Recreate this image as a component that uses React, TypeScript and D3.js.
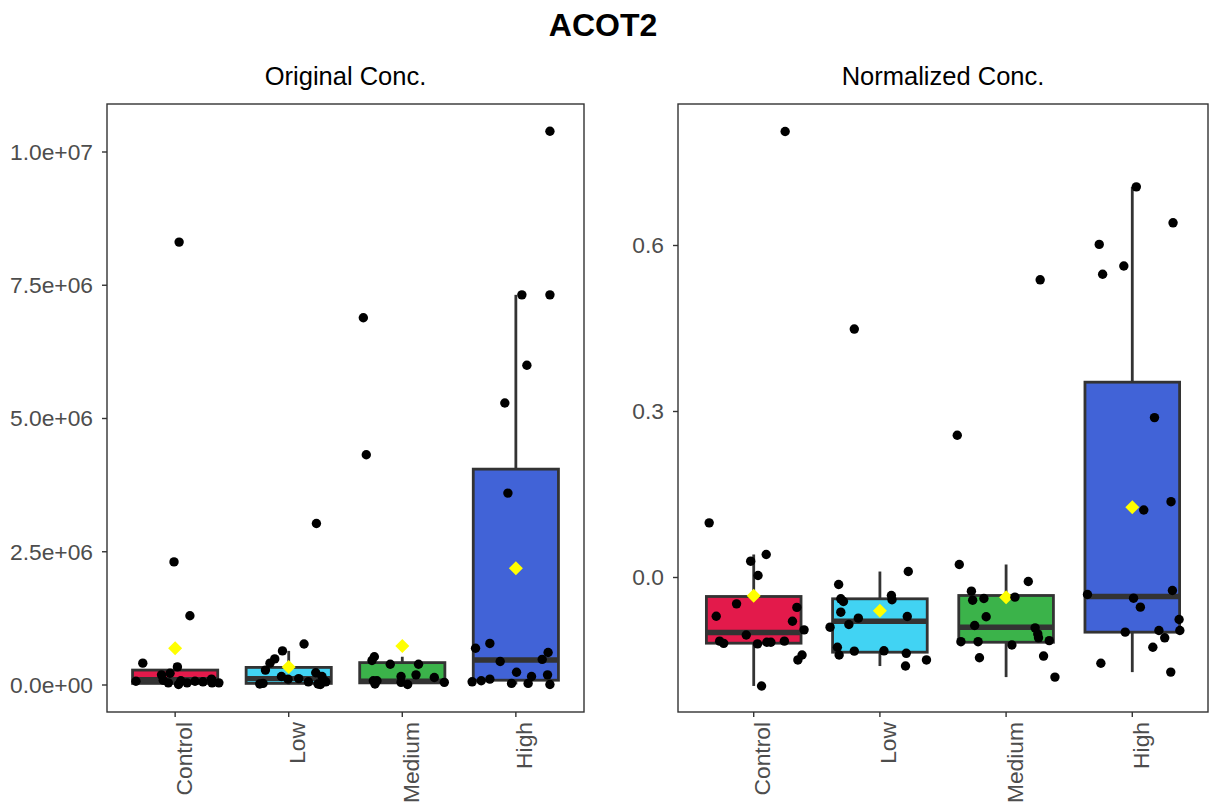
import React from "react";
import * as d3 from "d3";

// Treatment groups and their box fills
const groups = ["Control", "Low", "Medium", "High"];
const fills = ["#E31A4B", "#41D3F3", "#3BB34A", "#4163D7"];

// Axis ticks
const origTicks = [0, 2.5e6, 5e6, 7.5e6, 1e7];
const origTickLabels = ["0.0e+00", "2.5e+06", "5.0e+06", "7.5e+06", "1.0e+07"];
const normTicks = [0, 0.3, 0.6];
const normTickLabels = ["0.0", "0.3", "0.6"];

// Samples per group: [value, horizontal jitter as a fraction of the category step]
const origControl: [number, number][] = [
  [8.31e6, 0.035], [2.31e6, -0.01], [1.3e6, 0.13], [0.41e6, -0.285], [0.34e6, 0.02],
  [0.19e6, -0.12], [0.22e6, -0.045], [0.07e6, -0.345], [0.09e6, -0.105], [0.04e6, -0.06],
  [0.01e6, 0.03], [0.08e6, 0.05], [0.04e6, 0.105], [0.07e6, 0.175], [0.06e6, 0.245],
  [0.11e6, 0.32], [0.04e6, 0.325], [0.04e6, 0.385],
];
const origLow: [number, number][] = [
  [3.03e6, 0.244], [0.77e6, 0.135], [0.64e6, -0.055], [0.49e6, -0.123], [0.41e6, -0.165],
  [0.28e6, -0.205], [0.16e6, -0.064], [0.11e6, -0.006], [0.12e6, 0.088], [0.23e6, 0.238],
  [0.16e6, 0.293], [0.02e6, -0.255], [0.03e6, -0.226], [0.06e6, 0.173], [0.02e6, 0.258],
  [0.01e6, 0.279], [0.06e6, 0.326],
];
const origMedium: [number, number][] = [
  [6.89e6, -0.343], [4.32e6, -0.317], [0.53e6, -0.246], [0.46e6, -0.267], [0.39e6, -0.106],
  [0.39e6, 0.143], [0.19e6, 0.121], [0.16e6, -0.011], [0.14e6, 0.282], [0.08e6, -0.255],
  [0.08e6, -0.223], [0.02e6, -0.24], [0.05e6, -0.011], [0.01e6, 0.047], [0.05e6, 0.37],
];
const origHigh: [number, number][] = [
  [10.39e6, 0.3], [7.32e6, 0.053], [7.32e6, 0.3], [6.0e6, 0.097], [5.29e6, -0.097],
  [3.6e6, -0.07], [0.69e6, -0.355], [0.78e6, -0.229], [0.44e6, -0.138], [0.61e6, 0.284],
  [0.48e6, 0.232], [0.24e6, 0.006], [0.16e6, 0.138], [0.19e6, 0.279], [0.06e6, -0.385],
  [0.08e6, -0.305], [0.11e6, -0.229], [0.03e6, -0.038], [0.03e6, 0.108], [0.01e6, 0.3],
];

const normControl: [number, number][] = [
  [0.806, 0.249], [0.0988, -0.353], [0.0416, 0.099], [0.0295, -0.024], [0.0036, 0.034],
  [-0.0476, -0.136], [-0.07, -0.297], [-0.054, 0.342], [-0.079, 0.307], [-0.0946, 0.399],
  [-0.104, -0.059], [-0.115, -0.27], [-0.119, -0.238], [-0.12, 0.03], [-0.117, 0.104],
  [-0.117, 0.136], [-0.115, 0.243], [-0.14, 0.383], [-0.149, 0.35], [-0.196, 0.062],
];
const normLow: [number, number][] = [
  [0.449, -0.203], [0.0108, 0.225], [-0.0127, -0.327], [-0.0385, -0.31], [-0.0434, -0.289],
  [-0.0325, 0.091], [-0.0403, 0.096], [-0.0627, -0.31], [-0.0735, -0.171], [-0.0849, -0.246],
  [-0.0705, 0.217], [-0.0898, -0.395], [-0.126, -0.337], [-0.14, -0.323], [-0.133, -0.203],
  [-0.1325, 0.032], [-0.137, 0.209], [-0.16, 0.203], [-0.149, 0.369],
];
const normMedium: [number, number][] = [
  [0.538, 0.27], [0.257, -0.387], [0.0235, -0.371], [-0.0072, 0.176], [-0.0247, -0.275],
  [-0.041, -0.265], [-0.038, -0.176], [-0.0355, 0.07], [-0.071, -0.158], [-0.0868, -0.249],
  [-0.091, 0.23], [-0.102, 0.251], [-0.109, 0.257], [-0.116, -0.358], [-0.116, -0.222],
  [-0.114, 0.342], [-0.122, 0.046], [-0.145, -0.211], [-0.142, 0.297], [-0.18, 0.387],
];
const normHigh: [number, number][] = [
  [0.706, 0.032], [0.641, 0.323], [0.602, -0.262], [0.563, -0.067], [0.548, -0.235],
  [0.289, 0.176], [0.137, 0.307], [0.122, 0.091], [-0.0307, -0.355], [-0.0235, 0.318],
  [-0.0374, 0.01], [-0.0536, 0.064], [-0.0759, 0.371], [-0.0958, 0.377], [-0.0988, -0.056],
  [-0.0958, 0.211], [-0.109, 0.257], [-0.126, 0.163], [-0.155, -0.249], [-0.171, 0.305],
];

// Box summaries per group (Control, Low, Medium, High)
const origLower = [0.01e6, 0.01e6, 0.01e6, 0.01e6];
const origQ1 = [0.03e6, 0.03e6, 0.04e6, 0.09e6];
const origMedian = [0.1e6, 0.12e6, 0.07e6, 0.47e6];
const origQ3 = [0.28e6, 0.33e6, 0.42e6, 4.05e6];
const origUpper = [0.41e6, 0.64e6, 0.53e6, 7.32e6];
const origMean = [0.69e6, 0.34e6, 0.73e6, 2.19e6];

const normLower = [-0.196, -0.16, -0.18, -0.171];
const normQ1 = [-0.1187, -0.135, -0.117, -0.0988];
const normMedian = [-0.0994, -0.079, -0.0898, -0.0343];
const normQ3 = [-0.0343, -0.0385, -0.0325, 0.353];
const normUpper = [0.0416, 0.0108, 0.0235, 0.706];
const normMean = [-0.033, -0.06, -0.0355, 0.127];

const FONT = "'Liberation Sans', Arial, Helvetica, sans-serif";
const INK = "#333333";
const TICK_TEXT = "#4D4D4D";

type PanelProps = {
  title: string;
  left: number;
  right: number;
  top: number;
  bottom: number;
  yDomain: [number, number];
  yRange: [number, number];
  ticks: number[];
  tickLabels: string[];
  samples: [number, number][][];
  lower: number[];
  q1: number[];
  median: number[];
  q3: number[];
  upper: number[];
  mean: number[];
};

function Panel(p: PanelProps) {
  const x = d3.scalePoint<string>().domain(groups).range([p.left, p.right]).padding(0.6);
  const step = x.step();
  const y = d3.scaleLinear().domain(p.yDomain).range(p.yRange);
  const boxW = step * 0.75;
  const cx = (p.left + p.right) / 2;

  return (
    <g>
      <text x={cx} y={85} textAnchor="middle" fontFamily={FONT} fontSize={25.5} fill="#000">
        {p.title}
      </text>

      {groups.map((g, i) => {
        const xc = x(g)!;
        const half = 7;
        const my = y(p.mean[i]);
        return (
          <g key={g}>
            <line x1={xc} x2={xc} y1={y(p.q3[i])} y2={y(p.upper[i])} stroke={INK} strokeWidth={2.8} />
            <line x1={xc} x2={xc} y1={y(p.q1[i])} y2={y(p.lower[i])} stroke={INK} strokeWidth={2.8} />
            <rect
              x={xc - boxW / 2}
              y={y(p.q3[i])}
              width={boxW}
              height={y(p.q1[i]) - y(p.q3[i])}
              fill={fills[i]}
              stroke={INK}
              strokeWidth={2.8}
            />
            <line
              x1={xc - boxW / 2}
              x2={xc + boxW / 2}
              y1={y(p.median[i])}
              y2={y(p.median[i])}
              stroke={INK}
              strokeWidth={5.4}
            />
            <path
              d={`M${xc},${my - half}L${xc + half},${my}L${xc},${my + half}L${xc - half},${my}Z`}
              fill="#FFFF00"
            />
            {p.samples[i].map(([v, j], k) => (
              <circle key={k} cx={xc + j * step} cy={y(v)} r={4.7} fill="#000" />
            ))}
          </g>
        );
      })}

      <rect
        x={p.left}
        y={p.top}
        width={p.right - p.left}
        height={p.bottom - p.top}
        fill="none"
        stroke={INK}
        strokeWidth={1.4}
      />

      {p.ticks.map((t, i) => (
        <g key={t}>
          <line x1={p.left - 5} x2={p.left} y1={y(t)} y2={y(t)} stroke={INK} strokeWidth={1.4} />
          <text
            x={p.left - 14}
            y={y(t)}
            dy="0.35em"
            textAnchor="end"
            fontFamily={FONT}
            fontSize={22.8}
            fill={TICK_TEXT}
          >
            {p.tickLabels[i]}
          </text>
        </g>
      ))}

      {groups.map((g) => {
        const xc = x(g)!;
        return (
          <g key={g}>
            <line x1={xc} x2={xc} y1={p.bottom} y2={p.bottom + 5} stroke={INK} strokeWidth={1.4} />
            <text
              transform={`translate(${xc},${p.bottom + 10}) rotate(-90)`}
              dy={16.5}
              textAnchor="end"
              fontFamily={FONT}
              fontSize={22.8}
              fill={TICK_TEXT}
            >
              {g}
            </text>
          </g>
        );
      })}
    </g>
  );
}

export default function App() {
  return (
    <svg
      width={1210}
      height={806}
      style={{ position: "absolute", left: 0, top: 0, background: "#fff" }}
    >
      <rect width={1210} height={806} fill="#fff" />
      <text x={603} y={36} textAnchor="middle" fontFamily={FONT} fontSize={32} fontWeight="bold" fill="#000">
        ACOT2
      </text>
      <Panel
        title="Original Conc."
        left={107}
        right={584}
        top={104}
        bottom={712}
        yDomain={[0, 1e7]}
        yRange={[685, 152]}
        ticks={origTicks}
        tickLabels={origTickLabels}
        samples={[origControl, origLow, origMedium, origHigh]}
        lower={origLower}
        q1={origQ1}
        median={origMedian}
        q3={origQ3}
        upper={origUpper}
        mean={origMean}
      />
      <Panel
        title="Normalized Conc."
        left={678}
        right={1208}
        top={104}
        bottom={712}
        yDomain={[0, 0.6]}
        yRange={[577.5, 245.5]}
        ticks={normTicks}
        tickLabels={normTickLabels}
        samples={[normControl, normLow, normMedium, normHigh]}
        lower={normLower}
        q1={normQ1}
        median={normMedian}
        q3={normQ3}
        upper={normUpper}
        mean={normMean}
      />
    </svg>
  );
}
